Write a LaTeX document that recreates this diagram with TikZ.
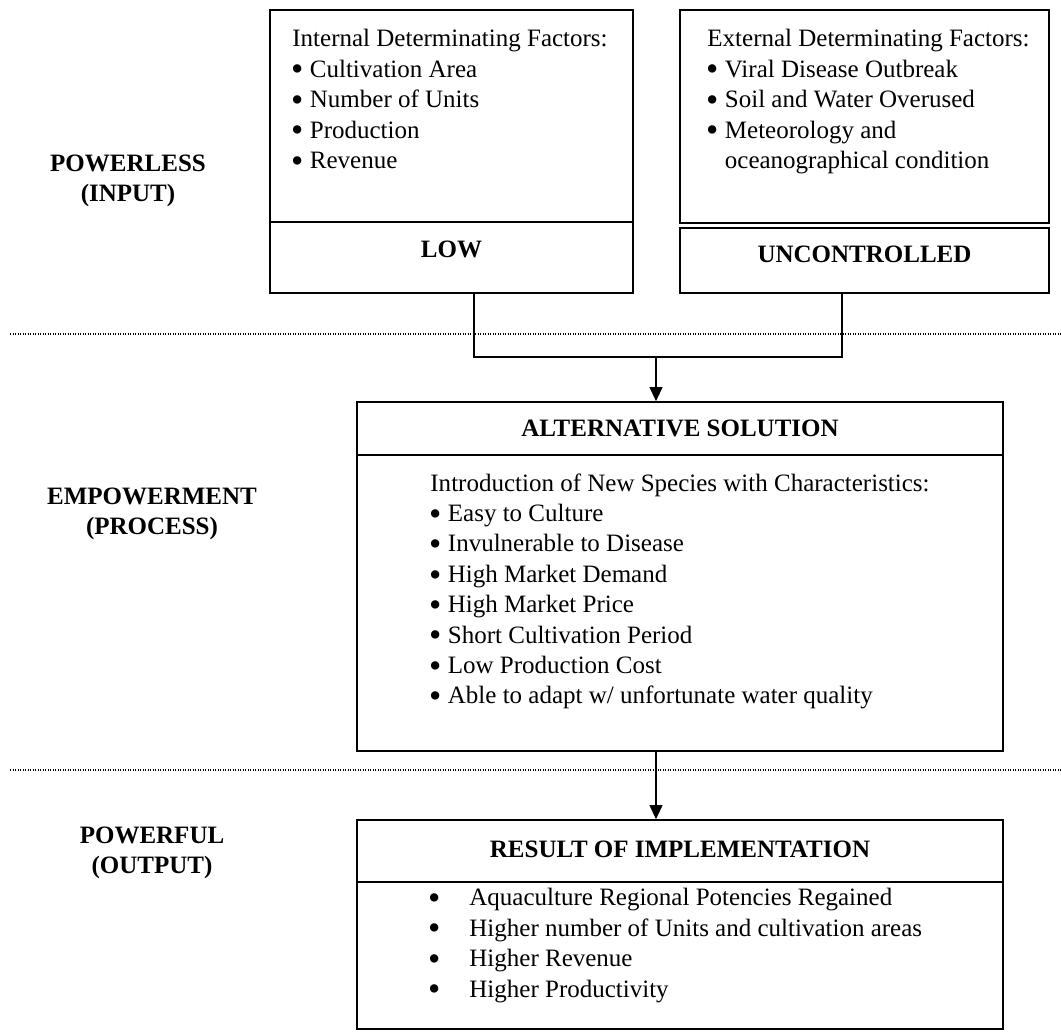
\documentclass[tikz,border=0pt]{standalone}
\usepackage{fontspec}
\usepackage{graphicx}
\setmainfont{Liberation Serif}
\usetikzlibrary{positioning,fit,arrows.meta}

\newcommand{\dotmark}{\hspace*{-0.6pt}\raisebox{-1.8pt}{\scalebox{1.4}{\textbullet}}}
\newcommand{\itm}[1]{\makebox[8.4pt][l]{\dotmark}#1}
\newcommand{\itmw}[1]{\makebox[19.2pt][l]{\dotmark}#1}

\tikzset{
  box/.style={draw, line width=0.8pt, inner sep=0pt},
  head/.style={inner sep=0pt, font=\fontsize{12}{14.4}\selectfont\bfseries},
  txt/.style={anchor=north west, inner sep=0pt, align=left, font=\fontsize{12}{14.6}\selectfont},
  stage/.style={align=center, inner sep=0pt, font=\fontsize{12}{14.4}\selectfont\bfseries},
  link/.style={line width=0.5pt},
  sep/.style={line width=0.5pt, dash pattern=on 0.6pt off 0.6pt},
}

\begin{document}
\begin{tikzpicture}[x=0.48pt, y=-0.48pt]
\useasboundingbox (0,0) rectangle (1061,1031);
%\draw[thin,color=gray!50] (0,0) grid[step=100] (1061,1031);

% stages
\node[stage] (powerless) at (128,181) {POWERLESS\\(INPUT)};
\node[stage] (empower) at (152,514) {EMPOWERMENT\\(PROCESS)};
\node[stage] (powerful) at (152,853) {POWERFUL\\(OUTPUT)};

% input boxes
\node[box, fit={(270,10) (633,222)}] (internal) {};
\node[box, fit={(270,222) (633,293)}] (low) {};
\node[box, fit={(680,10) (1049,223)}] (external) {};
\node[box, fit={(680,228) (1049,293)}] (uncontrolled) {};
\node[head] (lowlbl) at ([yshift=4pt]low.center) {LOW};
\node[head] (unclbl) at ([yshift=3pt]uncontrolled.center) {UNCONTROLLED};
\node[txt] (internaltxt) at (292,29) {Internal Determinating Factors:\\
  \itm{Cultivation Area}\\ \itm{Number of Units}\\ \itm{Production}\\ \itm{Revenue}};
\node[txt] (externaltxt) at (707,29) {External Determinating Factors:\\
  \itm{Viral Disease Outbreak}\\ \itm{Soil and Water Overused}\\
  \itm{Meteorology and}\\ \hspace*{8.4pt}oceanographical condition};

% process box
\node[box, fit={(357,402) (1003,455)}] (althead) {};
\node[box, fit={(357,455) (1003,751)}] (altbody) {};
\node[head] (altlbl) at (althead.center) {ALTERNATIVE SOLUTION};
\node[txt] (alttxt) at (430,473) {Introduction of New Species with Characteristics:\\
  \itm{Easy to Culture}\\ \itm{Invulnerable to Disease}\\ \itm{High Market Demand}\\
  \itm{High Market Price}\\ \itm{Short Cultivation Period}\\ \itm{Low Production Cost}\\
  \itm{Able to adapt w/ unfortunate water quality}};

% output box
\node[box, fit={(357,820) (1003,882)}] (reshead) {};
\node[box, fit={(357,882) (1003,1029)}] (resbody) {};
\node[head] (reslbl) at ([yshift=1pt]reshead.center) {RESULT OF IMPLEMENTATION};
\node[txt] (restxt) at (429,888) {\itmw{Aquaculture Regional Potencies Regained}\\
  \itmw{Higher number of Units and cultivation areas}\\ \itmw{Higher Revenue}\\
  \itmw{Higher Productivity}};

% stage separators
\draw[sep] (10,334) -- (1061,334);
\draw[sep] (10,770) -- (1061,770);

% connectors
\coordinate (elbowL) at (474,357);
\coordinate (elbowR) at (842,357);
\coordinate (drop) at (656,357);
\draw[link] (low.south -| elbowL) -- (elbowL) -- (elbowR) -- (uncontrolled.south -| elbowR);
\draw[link, -{Triangle[width=6.2pt,length=6.7pt]}] (drop) -- (drop |- althead.north);
\draw[link, -{Triangle[width=6.2pt,length=6.7pt]}] (altbody.south -| drop) -- (reshead.north -| drop);

\end{tikzpicture}
\end{document}
